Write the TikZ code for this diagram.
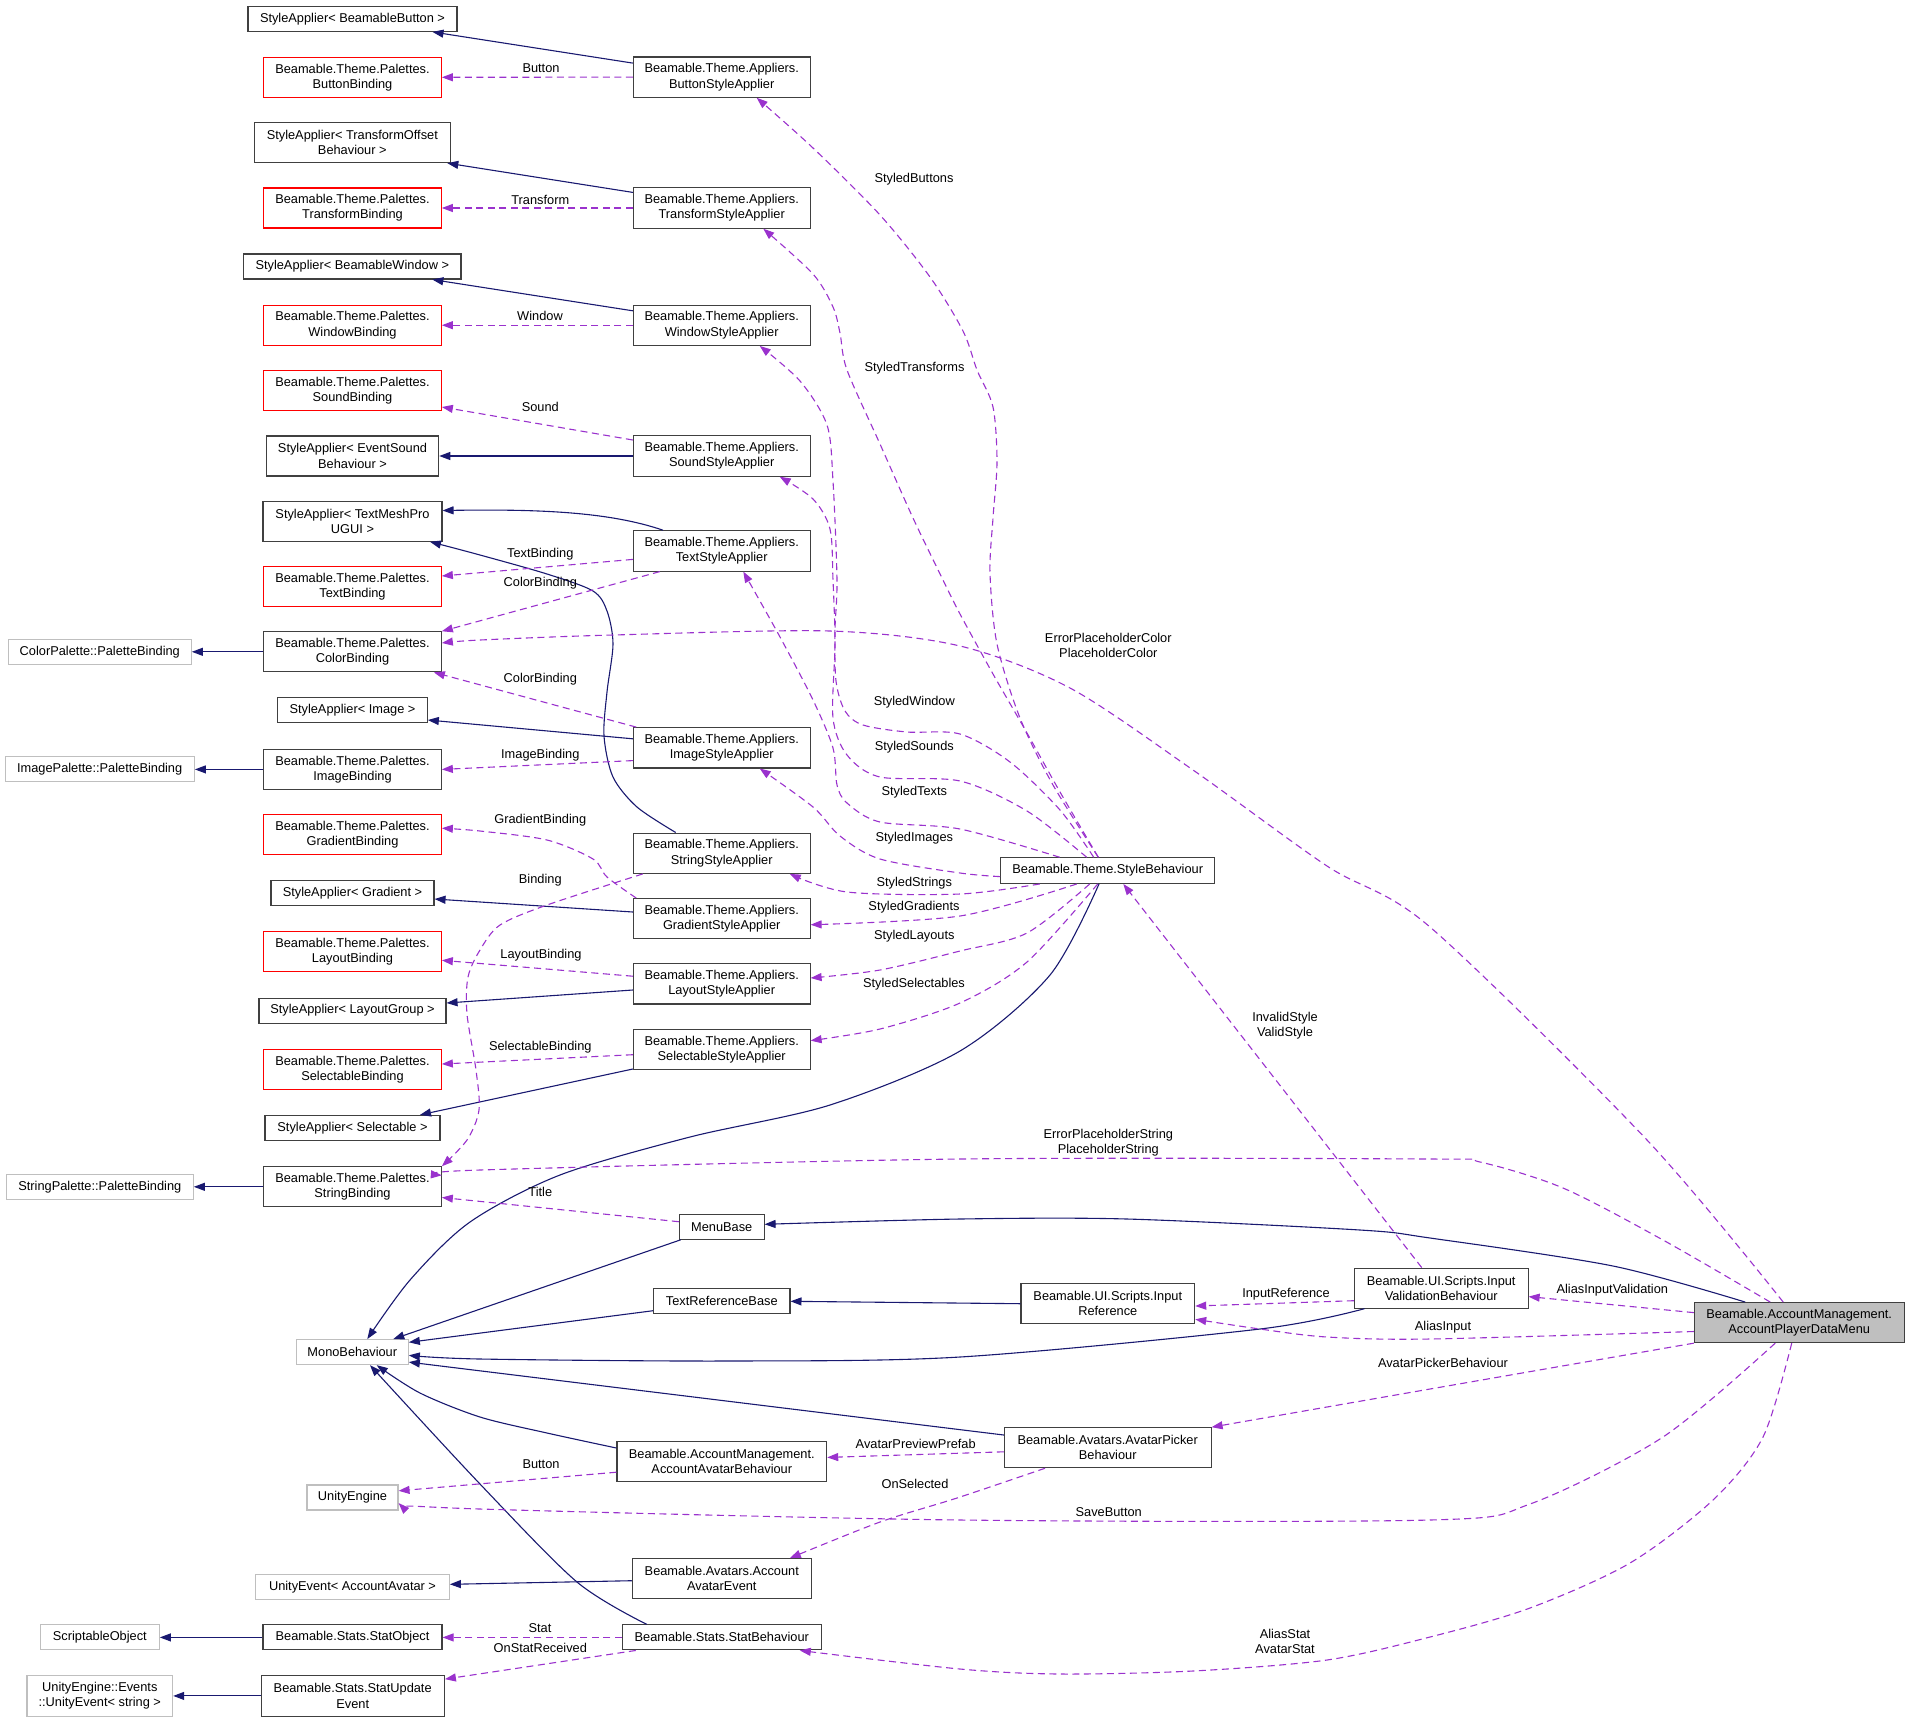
\documentclass[tikz,border=0pt]{standalone}
\usepackage{fontspec}
\setmainfont{Liberation Sans}
\usetikzlibrary{arrows.meta}
\definecolor{inhc}{HTML}{191970}
\definecolor{usec}{HTML}{9A32CD}
\definecolor{bord}{HTML}{404040}
\definecolor{redb}{HTML}{FF0000}
\definecolor{grayb}{HTML}{BFBFBF}
\begin{document}
\begin{tikzpicture}[x=1pt,y=-1pt,
  every node/.style={font=\fontsize{12.8}{15.2}\selectfont},
  box/.style={rectangle, draw=bord, line width=1.1pt, inner sep=0pt, align=center},
  redbox/.style={box, draw=redb},
  extbox/.style={box, draw=grayb},
  mainbox/.style={box, fill=grayb},
  bind/.style={minimum width=177.6pt, minimum height=40pt},
  appl/.style={minimum width=176.7pt, minimum height=40.3pt},
  one/.style={minimum height=25pt},
  two/.style={minimum height=40pt},
  inhedge/.style={draw=inhc, line width=1.1pt, -{Triangle[length=11pt,width=8pt]}},
  useedge/.style={draw=usec, line width=1.1pt, dash pattern=on 7pt off 4.5pt, -{Triangle[length=11pt,width=8pt]}},
  lbl/.style={inner sep=0pt, align=center}
]
\useasboundingbox (0,0) rectangle (1909,1722);

% ---------- left column ----------
\node[extbox, one, minimum width=183pt] (cpal) at (99.8,651.8) {ColorPalette::PaletteBinding};
\node[extbox, one, minimum width=189.3pt] (ipal) at (99.7,769.4) {ImagePalette::PaletteBinding};
\node[extbox, one, minimum width=187pt] (spal) at (99.8,1186.8) {StringPalette::PaletteBinding};
\node[extbox, one, minimum width=119pt] (sobj) at (99.8,1637.4) {ScriptableObject};
\node[extbox, minimum height=40.5pt, minimum width=145.7pt] (uevs) at (99.8,1695.9) {UnityEngine::Events\\::UnityEvent< string >};

% ---------- second column ----------
\node[box, one, minimum width=209pt] (saBtn) at (352.5,18.9) {StyleApplier< BeamableButton >};
\node[redbox, bind] (bBtn) at (352.5,77.3) {Beamable.Theme.Palettes.\\ButtonBinding};
\node[box, two, minimum width=196pt] (saTrans) at (352.3,142.6) {StyleApplier< TransformOffset\\Behaviour >};
\node[redbox, bind] (bTrans) at (352.5,208) {Beamable.Theme.Palettes.\\TransformBinding};
\node[box, one, minimum width=217.3pt] (saWin) at (352.3,266.5) {StyleApplier< BeamableWindow >};
\node[redbox, bind] (bWin) at (352.5,325.2) {Beamable.Theme.Palettes.\\WindowBinding};
\node[redbox, bind] (bSound) at (352.5,390.7) {Beamable.Theme.Palettes.\\SoundBinding};
\node[box, two, minimum width=172.4pt] (saSound) at (352.5,456) {StyleApplier< EventSound\\Behaviour >};
\node[box, two, minimum width=179pt] (saTMP) at (352.5,521.2) {StyleApplier< TextMeshPro\\UGUI >};
\node[redbox, bind] (bText) at (352.5,586.7) {Beamable.Theme.Palettes.\\TextBinding};
\node[box, bind] (bColor) at (352.5,651.8) {Beamable.Theme.Palettes.\\ColorBinding};
\node[box, one, minimum width=149.6pt] (saImg) at (352.5,710.4) {StyleApplier< Image >};
\node[box, bind] (bImg) at (352.5,769.4) {Beamable.Theme.Palettes.\\ImageBinding};
\node[redbox, bind] (bGrad) at (352.5,834.9) {Beamable.Theme.Palettes.\\GradientBinding};
\node[box, one, minimum width=163pt] (saGrad) at (352.5,893.3) {StyleApplier< Gradient >};
\node[redbox, bind] (bLayout) at (352.5,951.8) {Beamable.Theme.Palettes.\\LayoutBinding};
\node[box, one, minimum width=187pt] (saLayout) at (352.5,1010.6) {StyleApplier< LayoutGroup >};
\node[redbox, bind] (bSel) at (352.5,1069.5) {Beamable.Theme.Palettes.\\SelectableBinding};
\node[box, one, minimum width=175pt] (saSel) at (352.5,1127.9) {StyleApplier< Selectable >};
\node[box, bind] (bString) at (352.5,1186.8) {Beamable.Theme.Palettes.\\StringBinding};
\node[extbox, one, minimum width=112pt] (mono) at (352.3,1352.1) {MonoBehaviour};
\node[extbox, one, minimum width=91pt] (unity) at (352.5,1497.5) {UnityEngine};
\node[extbox, one, minimum width=193.6pt] (ueAA) at (352.5,1586.7) {UnityEvent< AccountAvatar >};
\node[box, one, minimum width=179pt] (statObj) at (352.5,1637.4) {Beamable.Stats.StatObject};
\node[box, minimum height=40.5pt, minimum width=183.3pt] (statUE) at (352.7,1695.9) {Beamable.Stats.StatUpdate\\Event};

% ---------- third column ----------
\node[box, appl] (aBtn) at (721.7,77.1) {Beamable.Theme.Appliers.\\ButtonStyleApplier};
\node[box, appl] (aTrans) at (721.7,208) {Beamable.Theme.Appliers.\\TransformStyleApplier};
\node[box, appl] (aWin) at (721.7,325.2) {Beamable.Theme.Appliers.\\WindowStyleApplier};
\node[box, appl] (aSound) at (721.7,456) {Beamable.Theme.Appliers.\\SoundStyleApplier};
\node[box, appl] (aText) at (721.7,550.9) {Beamable.Theme.Appliers.\\TextStyleApplier};
\node[box, appl] (aImg) at (721.7,747.8) {Beamable.Theme.Appliers.\\ImageStyleApplier};
\node[box, appl] (aString) at (721.7,853.2) {Beamable.Theme.Appliers.\\StringStyleApplier};
\node[box, appl] (aGrad) at (721.7,918.7) {Beamable.Theme.Appliers.\\GradientStyleApplier};
\node[box, appl] (aLayout) at (721.7,983.8) {Beamable.Theme.Appliers.\\LayoutStyleApplier};
\node[box, appl] (aSel) at (721.7,1049.3) {Beamable.Theme.Appliers.\\SelectableStyleApplier};
\node[box, one, minimum width=84.7pt] (menu) at (721.7,1226.7) {MenuBase};
\node[box, one, minimum width=136.3pt] (trb) at (721.8,1301.3) {TextReferenceBase};
\node[box, two, minimum width=209.7pt] (aab) at (721.8,1461.3) {Beamable.AccountManagement.\\AccountAvatarBehaviour};
\node[box, two, minimum width=179pt] (aae) at (721.8,1578.7) {Beamable.Avatars.Account\\AvatarEvent};
\node[box, one, minimum width=199pt] (statB) at (721.8,1637.4) {Beamable.Stats.StatBehaviour};

% ---------- right columns ----------
\node[box, minimum height=25.6pt, minimum width=214pt] (sb) at (1107.7,870.6) {Beamable.Theme.StyleBehaviour};
\node[box, two, minimum width=173.7pt] (inRef) at (1107.8,1303.7) {Beamable.UI.Scripts.Input\\Reference};
\node[box, two, minimum width=206.7pt] (apb) at (1107.7,1447.7) {Beamable.Avatars.AvatarPicker\\Behaviour};
\node[box, two, minimum width=173.7pt] (ivb) at (1441.2,1288.1) {Beamable.UI.Scripts.Input\\ValidationBehaviour};
\node[mainbox, two, minimum width=209.7pt] (apdm) at (1799.2,1322.6) {Beamable.AccountManagement.\\AccountPlayerDataMenu};

% ---------- inheritance edges ----------
\draw[inhedge] ([yshift=14pt]aBtn.west) -- ([xshift=80pt]saBtn.south);
\draw[inhedge] ([yshift=15.6pt]aTrans.west) -- ([xshift=95pt]saTrans.south);
\draw[inhedge] ([yshift=14.4pt]aWin.west) -- ([xshift=80pt]saWin.south);
\draw[inhedge] (aSound.west) -- (saSound.east);
\draw[inhedge] ([xshift=-58.7pt]aText.north) .. controls (610,512) and (540,509) .. ([yshift=10.7pt]saTMP.east);
\draw[inhedge] plot[smooth] coordinates {([xshift=-46pt]aString.north) (637,807) (613,777) (604,736) (607,692) (613,644) (607,611) (593,591) (547,574) (480,555) ([xshift=77.5pt]saTMP.south)};
\draw[inhedge] ([yshift=9pt]aImg.west) -- ([yshift=-9.6pt]saImg.east);
\draw[inhedge] ([yshift=6.7pt]aGrad.west) -- ([yshift=-5.7pt]saGrad.east);
\draw[inhedge] ([yshift=-6.2pt]aLayout.west) -- ([yshift=7.6pt]saLayout.east);
\draw[inhedge] ([yshift=1pt]aSel.south west) -- ([xshift=67.5pt]saSel.north);
\draw[inhedge] plot[smooth] coordinates {([xshift=-8.7pt]sb.south) (1050,975) (960,1051) (830,1105) (690,1137) (560,1175) (470,1222) (410,1280) ([xshift=15pt]mono.north)};
\draw[inhedge] ([xshift=2pt]menu.south west) -- ([xshift=41pt]mono.north);
\draw[inhedge] ([yshift=-9.4pt]trb.west) -- ([yshift=9.8pt]mono.east);
\draw[inhedge] plot[smooth] coordinates {([xshift=10.7pt]ivb.south west) (1260,1329) (960,1357) (727,1361) (480,1359) ([yshift=-3.2pt]mono.east)};
\draw[inhedge] ([yshift=12.7pt]apb.west) -- ([yshift=-10pt]mono.east);
\draw[inhedge] plot[smooth] coordinates {([yshift=13.3pt]aab.west) (547,1433) (480,1417) (420,1393) ([xshift=24.4pt]mono.south)};
\draw[inhedge] plot[smooth] coordinates {([xshift=-75pt]statB.north) (577,1582) (480,1484) ([xshift=17.7pt]mono.south)};
\draw[inhedge] ([yshift=-2pt]aae.west) -- ([yshift=2.4pt]ueAA.east);
\draw[inhedge] (statObj.west) -- (sobj.east);
\draw[inhedge] (statUE.west) -- (uevs.east);
\draw[inhedge] (bColor.west) -- (cpal.east);
\draw[inhedge] (bImg.west) -- (ipal.east);
\draw[inhedge] (bString.west) -- (spal.east);
\draw[inhedge] plot[smooth] coordinates {([xshift=-54pt]apdm.north) (1613,1266) (1430,1238) (1360,1230) (1127,1219) (960,1219) ([yshift=2.4pt]menu.east)};
\draw[inhedge] (inRef.west) -- (trb.east);

% ---------- usage edges ----------
\draw[useedge] (aBtn.west) -- (bBtn.east);
\draw[useedge] (aTrans.west) -- (bTrans.east);
\draw[useedge] (aWin.west) -- (bWin.east);
\draw[useedge] ([yshift=16pt]aSound.west) -- ([yshift=-16.3pt]bSound.east);
\draw[useedge] ([yshift=-8.5pt]aText.west) -- ([yshift=10.7pt]bText.east);
\draw[useedge] ([xshift=27pt]aText.south west) -- (bColor.north east);
\draw[useedge] ([xshift=3.4pt]aImg.north west) -- ([xshift=-8pt]bColor.south east);
\draw[useedge] plot[smooth] coordinates {([xshift=-16pt]apdm.north) (1647,1140) (1430,927) (1327,866) (1193,770) (1070,688) (960,646) (830,631) (613,635) (480,640) ([yshift=8.8pt]bColor.east)};
\draw[useedge] plot[smooth] coordinates {([xshift=-9.4pt]sb.north) (1053,785) (1020,718) (997,644) (990,573) (993,518) (997,462) (993,407) (977,370) (963,331) (930,277) (880,215) (813,148) ([xshift=35pt]aBtn.south)};
\draw[useedge] plot[smooth] coordinates {([xshift=-9.4pt]sb.north) (1060,792) (1027,733) (993,674) (960,614) (943,580) (913,518) (880,444) (847,370) (840,333) (833,307) (813,274) ([xshift=41.6pt]aTrans.south)};
\draw[useedge] plot[smooth] coordinates {([xshift=-14pt]sb.north) (1060,810) (1010,762) (960,734) (907,732) (863,725) (845,711) (836,681) (835,630) (837,580) (833,481) (827,425) (800,381) ([xshift=38pt]aWin.south)};
\draw[useedge] plot[smooth] coordinates {([xshift=-21pt]sb.north) (1027,811) (960,781) (880,777) (847,755) (833,718) (835,644) (833,580) (830,529) (813,499) ([xshift=58pt]aSound.south)};
\draw[useedge] plot[smooth] coordinates {([xshift=-48pt]sb.north) (960,829) (880,822) (847,803) (837,785) (833,748) (813,700) (780,637) ([xshift=21.6pt]aText.south)};
\draw[useedge] plot[smooth] coordinates {([yshift=-6pt]sb.west) (960,873) (880,859) (840,836) (813,807) ([xshift=38pt]aImg.south)};
\draw[useedge] plot[smooth] coordinates {([xshift=-68pt]sb.south) (960,894) (847,892) ([xshift=68pt]aString.south)};
\draw[useedge] plot[smooth] coordinates {([xshift=-31pt]sb.south) (960,916) ([yshift=-6pt]aGrad.east)};
\draw[useedge] plot[smooth] coordinates {([xshift=-18pt]sb.south) (1027,933) (960,951) (880,970) ([yshift=5.8pt]aLayout.east)};
\draw[useedge] plot[smooth] coordinates {([xshift=-10pt]sb.south) (1027,962) (960,1003) (880,1029) ([yshift=8.7pt]aSel.east)};
\draw[useedge] ([xshift=-19.5pt]ivb.north) -- ([xshift=15.6pt]sb.south);
\draw[useedge] plot[smooth] coordinates {([xshift=-29pt]apdm.north) (1663,1240) (1563,1188) (1480,1162) (1430,1159) (960,1159) (480,1170) ([yshift=11.5pt]bString.east)};
\draw[useedge] ([yshift=5pt]menu.west) -- ([yshift=-10.7pt]bString.east);
\draw[useedge] plot[smooth] coordinates {([xshift=10pt]aString.south west) (547,905) (500,925) (480,950) (468,977) (467,1014) (476,1070) (479,1110) (467,1140) (bString.north east)};
\draw[useedge] plot[smooth] coordinates {([xshift=3.4pt]aGrad.north west) (607,877) (593,859) (547,840) (480,831) ([yshift=6.7pt]bGrad.east)};
\draw[useedge] ([yshift=-12.8pt]aImg.west) -- (bImg.east);
\draw[useedge] ([yshift=7.6pt]aLayout.west) -- ([yshift=-8.5pt]bLayout.east);
\draw[useedge] ([yshift=-5.4pt]aSel.west) -- ([yshift=5.5pt]bSel.east);
\draw[useedge] ([yshift=10pt]apdm.west) -- ([yshift=-8.5pt]ivb.east);
\draw[useedge] ([yshift=-12.6pt]ivb.west) -- ([yshift=-2.3pt]inRef.east);
\draw[useedge] plot[smooth] coordinates {([yshift=-8.9pt]apdm.west) (1430,1339) (1327,1337) (1260,1329) ([yshift=-15.6pt]inRef.east)};
\draw[useedge] plot[smooth] coordinates {(apdm.south west) (1430,1389) (apb.north east)};
\draw[useedge] ([yshift=-4.1pt]apb.west) -- ([yshift=3.9pt]aab.east);
\draw[useedge] plot[smooth] coordinates {([xshift=-62.7pt]apb.south) (957,1498) (880,1522) ([xshift=68pt]aae.north)};
\draw[useedge] ([yshift=-10.9pt]aab.west) -- ([yshift=6.7pt]unity.east);
\draw[useedge] plot[smooth] coordinates {([xshift=-24pt]apdm.south) (1663,1437) (1530,1504) (1430,1520) (960,1520) (480,1509) ([yshift=-5.5pt]unity.east)};
\draw[useedge] plot[smooth] coordinates {([xshift=-7.5pt]apdm.south) (1763,1437) (1713,1500) (1630,1563) (1530,1608) (1430,1637) (1327,1660) (1193,1671) (1060,1674) (960,1669) ([xshift=78pt]statB.south)};
\draw[useedge] (statB.west) -- (statObj.east);
\draw[useedge] ([xshift=14pt]statB.south west) -- ([yshift=-4pt]statUE.north east);

% ---------- edge labels ----------
\node[lbl] (l1) at (541,68.4) {Button};
\node[lbl] (l2) at (540.3,199.8) {Transform};
\node[lbl] (l3) at (540,316.3) {Window};
\node[lbl] (l4) at (540.3,407.3) {Sound};
\node[lbl] (l5) at (540.3,554.2) {TextBinding};
\node[lbl] (l6) at (540.3,583.3) {ColorBinding};
\node[lbl] (l7) at (540.3,679.5) {ColorBinding};
\node[lbl] (l8) at (540.3,755.3) {ImageBinding};
\node[lbl] (l9) at (540.3,820.5) {GradientBinding};
\node[lbl] (l10) at (540.3,880.4) {Binding};
\node[lbl] (l11) at (541,955.5) {LayoutBinding};
\node[lbl] (l12) at (540.3,1047.2) {SelectableBinding};
\node[lbl] (l13) at (540.3,1192.3) {Title};
\node[lbl] (l14) at (541,1464.4) {Button};
\node[lbl] (l15) at (540,1628.5) {Stat};
\node[lbl] (l16) at (540.3,1648.2) {OnStatReceived};
\node[lbl] (l17) at (914,179.4) {StyledButtons};
\node[lbl] (l18) at (914.5,368.1) {StyledTransforms};
\node[lbl] (l19) at (914.3,702) {StyledWindow};
\node[lbl] (l20) at (914.3,747.2) {StyledSounds};
\node[lbl] (l21) at (914.3,792.3) {StyledTexts};
\node[lbl] (l22) at (914.3,838.2) {StyledImages};
\node[lbl] (l23) at (914.3,883.4) {StyledStrings};
\node[lbl] (l24) at (914,907.4) {StyledGradients};
\node[lbl] (l25) at (914.3,936.3) {StyledLayouts};
\node[lbl] (l26) at (914,984.4) {StyledSelectables};
\node[lbl] (l27) at (1108.3,645.2) {ErrorPlaceholderColor\\PlaceholderColor};
\node[lbl] (l28) at (1285,1025.5) {InvalidStyle\\ValidStyle};
\node[lbl] (l29) at (1108.3,1142.8) {ErrorPlaceholderString\\PlaceholderString};
\node[lbl] (l30) at (1286,1294.4) {InputReference};
\node[lbl] (l31) at (1612.3,1290.3) {AliasInputValidation};
\node[lbl] (l32) at (1443,1327.5) {AliasInput};
\node[lbl] (l33) at (1443,1363.1) {AvatarPickerBehaviour};
\node[lbl] (l34) at (915.7,1443.6) {AvatarPreviewPrefab};
\node[lbl] (l35) at (915,1484.1) {OnSelected};
\node[lbl] (l36) at (1108.7,1511.6) {SaveButton};
\node[lbl] (l37) at (1285,1641.2) {AliasStat\\AvatarStat};
\end{tikzpicture}
\end{document}
